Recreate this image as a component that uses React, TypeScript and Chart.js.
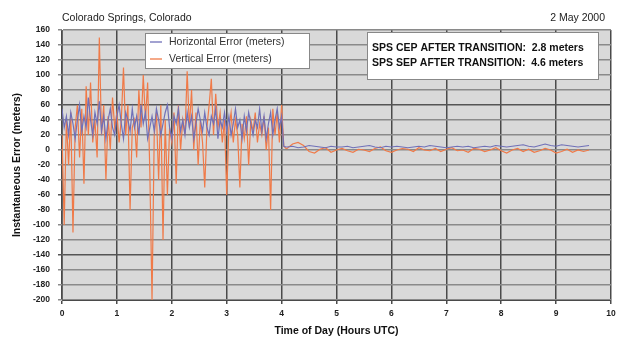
import React, { useEffect, useRef } from "react";
import { Chart, registerables } from "chart.js";

Chart.register(...registerables);

// Hours UTC sampling
const NOISY_START = 0;
const NOISY_STEP = 0.04;
const CALM_START = 4.1;
const CALM_STEP = 0.1;

const X_TICKS = [0, 1, 2, 3, 4, 5, 6, 7, 8, 9, 10];
const Y_MIN = -200;
const Y_MAX = 160;

const horizNoisy = [
  55, 30, 45, 20, 50, 35, 15, 40, 60, 25, 45, 30, 70, 40, 20, 50, 35, 65, 25, 45,
  15, 40, 55, 30, 20, 45, 60, 35, 15, 50, 40, 25, 55, 30, 45, 20, 60, 35, 50, 15,
  30, 45, 25, 55, 40, 20, 35, 50, 60, 30, 15, 45, 35, 55, 25, 40, 20, 50, 30, 45,
  15, 35, 55, 40, 25, 50, 30, 20, 45, 35, 55, 15, 40, 30, 50, 25, 45, 20, 35, 55,
  30, 40, 15, 45, 25, 50, 35, 20, 40, 30, 55, 25, 45, 15, 35, 50, 20, 40, 55, 30,
  45, 5, 4,
];

const vertNoisy = [
  20, -100, 40, -20, 50, -110, 30, 60, -10, 55, -45, 85, 20, 90, 10, 40, -10, 150, 20, 60,
  -40, 45, 0, 70, 30, 50, 10, 40, 110, 20, 60, -80, 30, 40, -10, 80, 30, 100, 40, 90,
  -30, -200, 20, 50, -40, 60, -120, 40, -60, 30, 10, 50, -45, 60, 0, 40, 20, 105, 30, 80,
  0, 50, -20, 40, 10, -50, 30, 60, 95, 20, 75, 30, 50, 10, 40, -60, 30, 50, 10, 40,
  20, -50, 35, 15, 45, -20, 40, 25, 50, 10, 35, 20, 45, 0, 30, -80, 55, 20, 50, 10,
  60, 5, 2,
];

const horizCalm = [
  4, 5, 3, 4, 6, 5, 4, 3, 5, 4, 4, 5, 3, 4, 5, 6, 4, 3, 5, 4,
  5, 4, 3, 4, 5, 4, 6, 5, 4, 3, 4, 5, 4, 5, 3, 4, 5, 4, 6, 5,
  4, 5, 6, 7, 5, 4, 6, 8, 6, 5, 7, 6, 5, 4, 5, 6,
];

const vertCalm = [
  2, 8, 10, 6, -2, -4, 1, 3, -3, 0, 2, -1, -3, 1, 0, -2, 2, 4, -1, -3,
  0, 2, 1, -2, 3, 0, -1, 2, -2, 1, 3, -1, 0, -3, 2, 1, -2, 0, 3, -1,
  -4, 0, 2, -2, 1, -3, -1, 2, 0, -4, -2, 1, -3, 0, -2, 0,
];

const SERIES_NAMES = ["Horizontal Error (meters)", "Vertical Error (meters)"];
const NOTE_LINES = [
  "SPS CEP AFTER TRANSITION:  2.8 meters",
  "SPS SEP AFTER TRANSITION:  4.6 meters",
];
const TITLE_LEFT = "Colorado Springs, Colorado";
const TITLE_RIGHT = "2 May 2000";
const X_TITLE = "Time of Day (Hours UTC)";
const Y_TITLE = "Instantaneous Error (meters)";

const H_COLOR = "#7070b8";
const V_COLOR = "#f07a48";
const FONT = "'Liberation Sans', Arial, sans-serif";

function build(noisy: number[], calm: number[]) {
  const pts: { x: number; y: number }[] = [];
  noisy.forEach((v, i) => pts.push({ x: NOISY_START + i * NOISY_STEP, y: v }));
  calm.forEach((v, i) => pts.push({ x: CALM_START + i * CALM_STEP, y: v }));
  return pts;
}

const decorPlugin = {
  id: "decor",
  beforeDraw(chart: any) {
    const { ctx, chartArea } = chart;
    ctx.save();
    ctx.fillStyle = "#ffffff";
    ctx.fillRect(0, 0, chart.width, chart.height);
    ctx.fillStyle = "#d9d9d9";
    ctx.fillRect(chartArea.left, chartArea.top, chartArea.right - chartArea.left, chartArea.bottom - chartArea.top);
    ctx.restore();
  },
  afterDraw(chart: any) {
    const { ctx, chartArea } = chart;
    ctx.save();
    // titles
    ctx.fillStyle = "#222";
    ctx.font = `10.5px ${FONT}`;
    ctx.textBaseline = "middle";
    ctx.textAlign = "left";
    ctx.fillText(TITLE_LEFT, chartArea.left, 18);
    ctx.textAlign = "right";
    ctx.fillText(TITLE_RIGHT, 605, 18);

    // legend box
    const lx = 145, ly = 33, lw = 164, lh = 35;
    ctx.fillStyle = "#ffffff";
    ctx.fillRect(lx, ly, lw, lh);
    ctx.strokeStyle = "#888";
    ctx.lineWidth = 1;
    ctx.strokeRect(lx + 0.5, ly + 0.5, lw, lh);
    const colors = [H_COLOR, V_COLOR];
    SERIES_NAMES.forEach((name, i) => {
      const y = ly + 9 + i * 17;
      ctx.strokeStyle = colors[i];
      ctx.lineWidth = 1.3;
      ctx.beginPath();
      ctx.moveTo(lx + 5, y);
      ctx.lineTo(lx + 17, y);
      ctx.stroke();
      ctx.fillStyle = "#333";
      ctx.font = `10.5px ${FONT}`;
      ctx.textAlign = "left";
      ctx.textBaseline = "middle";
      ctx.fillText(name, lx + 24, y);
    });

    // note box
    const nx = 367, ny = 32, nw = 231, nh = 47;
    ctx.fillStyle = "#ffffff";
    ctx.fillRect(nx, ny, nw, nh);
    ctx.strokeStyle = "#888";
    ctx.lineWidth = 1;
    ctx.strokeRect(nx + 0.5, ny + 0.5, nw, nh);
    ctx.fillStyle = "#111";
    ctx.font = `bold 10.5px ${FONT}`;
    ctx.textAlign = "left";
    ctx.textBaseline = "middle";
    NOTE_LINES.forEach((t, i) => {
      ctx.fillText(t, nx + 5, ny + 16 + i * 15);
    });
    ctx.restore();
  },
};

export default function App() {
  const ref = useRef<HTMLCanvasElement | null>(null);
  useEffect(() => {
    if (!ref.current) return;
    const chart = new Chart(ref.current, {
      type: "line",
      data: {
        datasets: [
          {
            label: SERIES_NAMES[0],
            data: build(horizNoisy, horizCalm),
            borderColor: H_COLOR,
            borderWidth: 1.2,
            pointRadius: 0,
            tension: 0,
          },
          {
            label: SERIES_NAMES[1],
            data: build(vertNoisy, vertCalm),
            borderColor: V_COLOR,
            borderWidth: 1.2,
            pointRadius: 0,
            tension: 0,
          },
        ],
      },
      options: {
        animation: false,
        responsive: false,
        maintainAspectRatio: false,
        layout: { padding: { top: 30, right: 11, left: 0, bottom: 0 } },
        plugins: { legend: { display: false }, tooltip: { enabled: false } },
        scales: {
          x: {
            type: "linear",
            min: 0,
            max: 10,
            afterBuildTicks: (s: any) => {
              s.ticks = X_TICKS.map((v) => ({ value: v }));
            },
            afterFit: (s: any) => {
              s.height = 45;
            },
            ticks: { color: "#222", font: { size: 8.5, weight: "bold", family: FONT }, padding: 5, maxRotation: 0 },
            grid: { color: "#4a4a4a", lineWidth: 1.5, tickLength: 4, drawTicks: true },
            border: { color: "#4a4a4a", width: 1 },
            title: { display: true, text: X_TITLE, color: "#111", font: { size: 10.5, weight: "bold", family: FONT }, padding: { top: 0, bottom: 8 } },
          },
          y: {
            min: Y_MIN,
            max: Y_MAX,
            ticks: { stepSize: 20, color: "#222", font: { size: 8.5, weight: "bold", family: FONT }, padding: 8 },
            afterFit: (s: any) => {
              s.width = 62;
            },
            grid: {
              color: (c: any) => {
                const v = c.tick && c.tick.value;
                return v === 60 || v === -60 || v === -140 ? "#555" : "#8a8a8a";
              },
              lineWidth: 1.5,
              tickLength: 4,
            },
            border: { color: "#666", width: 1 },
            title: { display: true, text: Y_TITLE, color: "#111", font: { size: 10.5, weight: "bold", family: FONT }, padding: { top: 11, bottom: 0 } },
          },
        },
      },
      plugins: [decorPlugin],
    } as any);
    return () => chart.destroy();
  }, []);
  return (
    <div style={{ position: "fixed", left: 0, top: 0, width: 622, height: 345, background: "#fff" }}>
      <canvas ref={ref} width={622} height={345} style={{ width: 622, height: 345 }} />
    </div>
  );
}
